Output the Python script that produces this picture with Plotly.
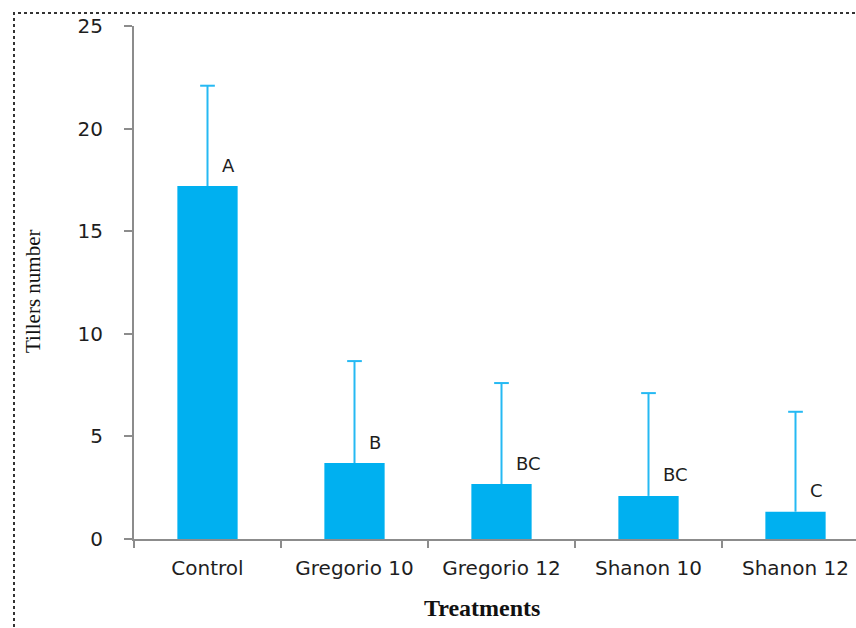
import plotly.graph_objects as go

# Tiller counts per treatment with upper standard deviation
treatments = ["Control", "Gregorio 10", "Gregorio 12", "Shanon 10", "Shanon 12"]
tillers = [17.2, 3.7, 2.68, 2.1, 1.33]
tillers_sd = [4.89, 4.97, 4.92, 5.01, 4.87]
groups = ["A", "B", "BC", "BC", "C"]
y_ticks = [0, 5, 10, 15, 20, 25]

W, H = 856, 628
ML, MR, MT, MB = 134, 0, 26, 89
plot_w = W - ML - MR
plot_h = H - MT - MB
cat_px = 147.0  # width of one category slot
x_range = [-0.5, -0.5 + plot_w / cat_px]

bar_color = "#00B0F0"
err_color = "#25B9F3"
axis_color = "#8c8c8c"
tick_font = dict(family="DejaVu Sans", size=20, color="#1e1e1e")

fig = go.Figure()
fig.add_trace(go.Bar(
    x=treatments,
    y=tillers,
    width=0.41,
    marker=dict(color=bar_color, line=dict(width=0)),
    showlegend=False,
))

# Upper-only whiskers with a cap, on an overlaid numeric axis
cap = 0.05
wx, wy = [], []
for i, (v, s) in enumerate(zip(tillers, tillers_sd)):
    wx += [i, i, None, i - cap, i + cap, None]
    wy += [v, v + s, None, v + s, v + s, None]
fig.add_trace(go.Scatter(
    x=wx, y=wy, xaxis="x2", mode="lines",
    line=dict(color=err_color, width=2),
    hoverinfo="skip", showlegend=False,
))

# Significance letters next to each whisker
for t, v, g in zip(treatments, tillers, groups):
    fig.add_annotation(x=t, y=v, text=g, showarrow=False,
                       xanchor="left", yanchor="middle",
                       xshift=12, yshift=21,
                       font=dict(family="DejaVu Sans", size=18, color="#1e1e1e"))

# Axis titles
fig.add_annotation(xref="paper", yref="paper",
                   x=(33 - ML) / plot_w, y=(H - MB - 292) / plot_h,
                   text="Tillers number", textangle=-90, showarrow=False,
                   xanchor="center", yanchor="middle",
                   font=dict(family="Liberation Serif", size=21, color="#111"))
fig.add_annotation(xref="paper", yref="paper",
                   x=(482 - ML) / plot_w, y=(H - MB - 608) / plot_h,
                   text="<b>Treatments</b>", showarrow=False,
                   xanchor="center", yanchor="middle",
                   font=dict(family="Liberation Serif", size=24, color="#111"))

# Dotted frame around the chart
fig.add_shape(type="rect", xref="paper", yref="paper",
              x0=(14 - ML) / plot_w, x1=(W + 20 - ML) / plot_w,
              y0=(H - MB - (H + 20)) / plot_h, y1=(H - MB - 13) / plot_h,
              line=dict(color="#333", width=2, dash="dot"),
              fillcolor="rgba(0,0,0,0)")

fig.update_layout(
    width=W, height=H,
    margin=dict(l=ML, r=MR, t=MT, b=MB, autoexpand=False),
    plot_bgcolor="white", paper_bgcolor="white",
    xaxis=dict(
        type="category",
        range=x_range,
        showline=True, linecolor=axis_color, linewidth=2,
        ticks="outside", tickson="boundaries", ticklen=7, tickwidth=2,
        tickcolor=axis_color, showgrid=False, zeroline=False,
        tickfont=tick_font, ticklabelstandoff=10, automargin=False,
    ),
    xaxis2=dict(overlaying="x", range=x_range, visible=False,
                showgrid=False, zeroline=False),
    yaxis=dict(
        range=[0, 25], tickvals=y_ticks,
        showline=True, linecolor=axis_color, linewidth=2,
        ticks="outside", ticklen=8, tickwidth=2, tickcolor=axis_color,
        showgrid=False, zeroline=False,
        tickfont=tick_font, ticklabelstandoff=17, automargin=False,
    ),
)

fig.write_html("out.html")
